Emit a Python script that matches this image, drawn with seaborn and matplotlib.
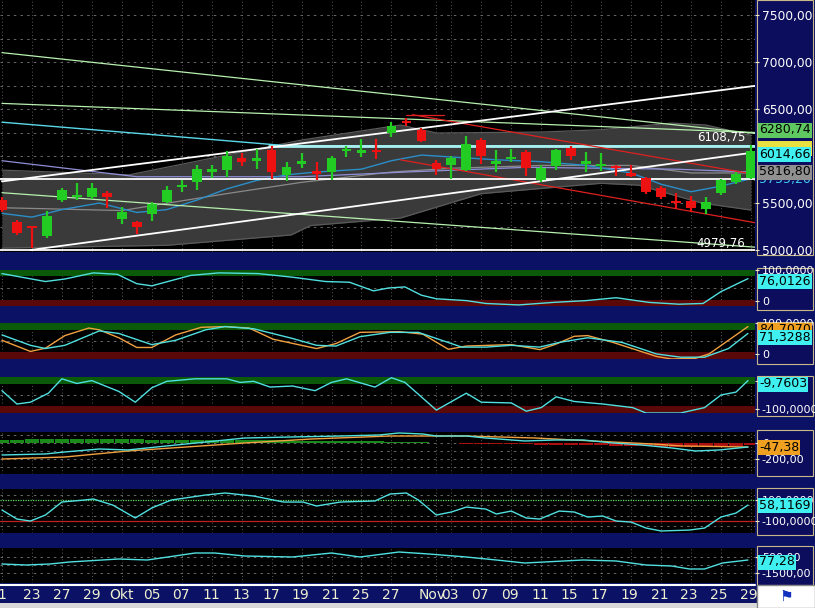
import numpy as np
import pandas as pd
import matplotlib
matplotlib.use("Agg")
import matplotlib.pyplot as plt
import seaborn as sns
from matplotlib.patches import Rectangle

sns.set_style("dark")
plt.rcParams['font.family'] = ['DejaVu Sans']

# ---------------- data ----------------
opens = [5530,5300,5250,5150,5530,5560,5560,5610,5330,5300,5380,5510,5670,5720,5830,5850,5980,5950,6060,5800,
         5920,5840,5830,6050,6030,6060,6250,6370,6280,5930,5900,5850,6170,5920,5970,6040,5740,5890,6090,5920,
         5890,5880,5800,5770,5660,5510,5520,5440,5610,5720,5770]
closes = [5430,5180,5230,5360,5640,5590,5660,5560,5400,5240,5490,5640,5690,5860,5860,6000,5940,5970,5830,5880,
          5940,5810,5980,6070,6060,6040,6320,6350,6160,5860,5980,6130,6000,5940,5980,5870,5870,6060,6000,5940,
          5910,5870,5790,5620,5560,5500,5450,5510,5750,5810,6050]
highs = [5560,5320,5260,5420,5660,5710,5710,5630,5460,5310,5510,5680,5740,5900,5900,6050,6030,6070,6110,5940,
         6030,5940,6000,6110,6180,6180,6360,6400,6300,5960,6000,6210,6190,6060,6080,6060,5900,6080,6110,6040,
         6030,5900,5900,5780,5680,5610,5570,5560,5760,5830,6120]
lows = [5400,5160,5020,5130,5510,5530,5540,5450,5280,5170,5310,5500,5620,5640,5770,5780,5890,5860,5760,5730,
        5870,5750,5740,5990,5990,5970,6200,6320,6150,5800,5760,5840,5920,5830,5940,5790,5720,5850,5960,5830,
        5840,5790,5780,5600,5540,5450,5400,5380,5590,5700,5760]

date_pos = [0,2,4,6,8,10,12,14,16,18,20,22,24,26,29,30,32,34,36,38,40,42,44,46,48,50]
date_labels = ["1","23","27","29","Okt","05","07","11","13","17","19","21","25","27","Nov","03","07","09",
               "11","15","17","19","21","23","25","29"]

bb_up_x = [0,8.5,20,26.6,29,36,40,44.7,47,50]
bb_up = [5850,5800,6170,6330,6245,6255,6280,6350,6330,6220]
bb_lo_x = [0,11,19.3,20.6,26.6,32,40,42.5,46.7,50]
bb_lo = [5020,5050,5160,5260,5340,5600,5710,5690,5500,5425]
mid_x = [0,8,15,20,26,30,36,42,46,50]
mid = [5450,5420,5600,5720,5830,5870,5900,5900,5820,5820]
ma_x = [0,2,4,6.5,9,11,13,15,17,19,21,24,26,28,30,33,36,39,42,44,46,48,50]
ma = [5390,5350,5430,5500,5400,5430,5530,5650,5740,5800,5830,5860,5950,6010,5990,5960,5940,5900,5820,5700,5620,5680,5760]
lav_x = [0,9,20,27,35,45,50]
lav = [5950,5780,5780,5830,5880,5860,5830]
cyan_x = [0,19,50.3]
cyan = [6360,6110,6110]

p1_x = [0,2.9,4.2,6.1,7.7,9,10,12.6,14.5,17.1,19.4,21.6,23.2,24.8,25.8,26.9,28,29,31,32.3,34.5,36.8,39,41,43.2,45.2,46.8,48,49,49.8]
p1_y = [90,68,75,92,88,62,56,85,92,90,80,68,66,42,50,53,30,20,15,7,3,10,15,23,10,5,7,40,60,76]
p2c_x = [0,1.9,2.9,4.2,6.5,7.8,10,11.6,13.6,14.9,16.8,19.4,21,22.3,23.9,25.9,27.8,29,30.7,32.3,34,35.9,37.2,39.1,41.4,43.7,45.3,46.9,48.5,49.8]
p2c_y = [67,38,29,38,78,71,40,52,81,90,84,57,38,36,62,74,74,57,33,33,38,33,46,59,46,14,5,5,29,71]
p2o_x = [0,1.9,2.9,4.2,5.8,6.5,7.8,9,10,11.6,13.3,14.9,16.5,18.1,21,22.3,23.9,26.5,28.1,29.8,31,34,35.9,36.9,38.2,39.1,40.8,43.7,44.7,46.3,47.2,48.5,49.8]
p2o_y = [52,21,30,65,86,81,59,32,32,67,88,90,86,55,29,43,74,76,69,27,36,40,26,40,63,65,46,7,0,2,14,52,90]
p3_x = [0,1,1.9,3.1,4,5,6,7.8,8.9,10,11,12.9,15,15.9,16.8,17.9,19.4,20.9,22,23,24.9,26,26.9,29,31,32,34,35,36,37,38.2,40.1,42.1,43,45.3,46.9,48,49,49.8]
p3_y = [-38,-75,-70,-45,-5,-18,-10,-40,-70,-30,-12,-5,-5,-15,-12,-28,-25,-38,-15,-5,-28,-2,-15,-92,-45,-70,-72,-95,-85,-55,-68,-75,-85,-100,-100,-85,-50,-42,-10]
p4c_x = [0,2.9,4.2,6.5,8.4,11,13.6,16.2,19.4,22.6,25.2,26.5,28.1,29,31,32.3,34.9,36.9,38.8,40.8,42.7,44.7,46.3,47.9,49.8]
p4c_y = [-150,-137,-112,-75,-87,-37,12,62,75,87,100,125,112,87,87,62,25,37,37,0,-25,-62,-100,-87,-50]
p4o_x = [0,4.2,8.4,12.3,16.2,20.7,25.9,31,35.6,40.8,43.4,45.3,49.8]
p4o_y = [-200,-175,-100,-50,0,50,87,87,62,12,-12,-37,-50]
hist = [40,42,44,45,46,46,48,48,46,44,42,40,40,38,38,38,36,34,34,32,30,30,28,26,24,20,16,12,8,4,0,-8,-12,-14,-16,-18,-20,-22,-24,-26,-28,-32,-36,-42,-46,-50,-50,-46,-40,-34,-30]
p5_x = [0,1,1.9,2.9,4,5.5,6.1,7.4,8.9,10,11.3,13.6,14.9,16.8,18.8,20.1,21,22.6,24.9,25.9,27,27.8,29,30,31,32.3,33,34,35,35.9,37.2,38.2,39.1,40.1,41,42,43,44,45.9,46.9,48,49,49.8]
p5_y = [5,-81,-100,-43,81,100,110,52,-71,24,100,148,167,138,81,81,43,81,91,157,167,100,-43,-14,33,14,-33,-5,-71,-81,-5,-14,-62,-52,-100,-110,-167,-195,-186,-167,-62,-24,52]
p6_x = [0,1.6,3.2,4.5,7.8,9.7,12.9,14.2,16.2,19.4,22,23.9,26.5,28.5,31,33,34.9,38.8,41,43,44.7,45.9,46.9,48.1,49.8]
p6_y = [-375,-500,-375,-125,250,125,1000,1000,625,500,1000,500,1125,875,500,125,-250,125,0,-500,-625,-1000,-1000,-250,125]

# ---------------- layout helpers ----------------
W, H = 815, 608
fig = plt.figure(figsize=(W/100, H/100), dpi=100)
NAVY = '#0b1266'
fig.patch.set_facecolor(NAVY)

def px_axes(x0, y0, x1, y1):
    ax = fig.add_axes([x0/W, 1-y1/H, (x1-x0)/W, (y1-y0)/H])
    ax.set_facecolor('black')
    for s in ax.spines.values():
        s.set_visible(False)
    ax.set_xlim(-0.13, 50.27)
    ax.set_xticks([])
    ax.grid(False)
    for p in date_pos:
        ax.axvline(p, color='#777777', lw=0.6, ls=(0, (1, 3)), zorder=0)
    return ax

def ftext(x, y, s, **kw):
    fig.text(x/W, 1-y/H, s, **kw)

def right_ticks(ax, vals, labels, size=8.0):
    ax.yaxis.tick_right()
    ax.set_yticks(vals)
    ax.set_yticklabels(labels)
    ax.tick_params(axis='y', colors='#f0e8c0', labelcolor='white', labelsize=size, length=3, pad=2)

def hline_grid(ax, vals):
    for v in vals:
        ax.axhline(v, color='#777777', lw=0.6, ls=(0, (3, 5)), zorder=0)

def line(ax, x, y, color, lw=1.0, **kw):
    sns.lineplot(x=x, y=y, ax=ax, color=color, lw=lw, sort=False, estimator=None, **kw)

frames = [(0, 255), (268, 310), (322, 364), (376, 416), (430, 476), (488, 535), (546, 585)]
for (a, b) in frames:
    fig.patches.append(Rectangle((757/W, 1-b/H), 56/W, (b-a)/H, transform=fig.transFigure,
                                 fill=True, facecolor='#0d0d5e', edgecolor='#c8b888', lw=0.8, zorder=-5))

# ---------------- main price panel ----------------
ax = px_axes(0, 0, 755, 252)
ax.set_ylim(4979, 7660)
hline_grid(ax, [5250, 5500, 5750, 6000, 6250, 6500, 6750, 7000, 7250, 7500])
xx = np.linspace(0, 50, 200)
ax.fill_between(xx, np.interp(xx, bb_lo_x, bb_lo), np.interp(xx, bb_up_x, bb_up), color='#3a3a3a', lw=0, zorder=1)
line(ax, bb_up_x, bb_up, '#5a5a5a', 0.9, zorder=2)
line(ax, bb_lo_x, bb_lo, '#5a5a5a', 0.9, zorder=2)
line(ax, mid_x, mid, '#8a8a8a', 0.9, zorder=2)
line(ax, lav_x, lav, '#8f8fd8', 0.9, zorder=2)
line(ax, ma_x, ma, '#2a8ec8', 1.0, zorder=2)
line(ax, cyan_x, cyan, '#5ad8e8', 1.0, zorder=2)
ax.plot([17.8, 50.3], [6110, 6110], color='#a8f0f0', lw=2.0, zorder=2)
line(ax, [0, 50.3], [7100, 6240], '#b8f0b0', 0.9, zorder=2)
line(ax, [0, 50.3], [6560, 6250], '#b8f0b0', 0.9, zorder=2)
line(ax, [0, 50.3], [5610, 5030], '#b8f0b0', 0.9, zorder=2)
line(ax, [27.4, 49.7], [6440, 5820], '#e02020', 0.9, zorder=2)
line(ax, [26.6, 50.3], [5960, 5290], '#e02020', 0.9, zorder=2)
ax.plot([27.0, 29.5], [6440, 6440], color='#e02020', lw=0.9, zorder=2)
line(ax, [1.9, 50.3], [5000, 6040], 'white', 1.3, zorder=3)
line(ax, [0, 54.4], [5730, 6830], 'white', 1.3, zorder=3)
ax.axhline(5755, color='white', lw=1.3, zorder=3)
ax.axhline(4995, color='white', lw=1.3, zorder=3)
idx = np.arange(len(opens))
o = np.array(opens); c = np.array(closes)
col = np.where(c >= o, '#22cc22', '#ee1111')
ax.vlines(idx, lows, highs, colors=col, lw=1.6, zorder=4)
bottom = np.minimum(o, c)
height = np.maximum(np.abs(c - o), 25)
ax.bar(idx, height, bottom=bottom, width=0.65, color=col, lw=0, edgecolor='none', zorder=5)
right_ticks(ax, [5000, 5500, 6500, 7000, 7500], ["5000,00", "5500,00", "6500,00", "7000,00", "7500,00"], size=8.8)
ftext(745, 137, "6108,75", color='white', fontsize=8.5, ha='right', va='center')
ftext(745, 243, "4979,76", color='white', fontsize=8.5, ha='right', va='center')
def tag(y, s, bg, fg='black', x=759):
    ftext(x, y, s, color=fg, fontsize=9, ha='left', va='center',
          bbox=dict(boxstyle='square,pad=0.08', fc=bg, ec='none'))
ftext(759, 180, "5755,20", color='#40c8f0', fontsize=9, ha='left', va='center')
tag(148, "             ", '#e8e040')
tag(130, "6280,74", '#60c860')
tag(155, "6014,66", '#40f0f0')
tag(172, "5816,80", '#909090')

# ---------------- sub panels ----------------
def bands(ax, glo, ghi, rlo, rhi):
    ax.axhspan(glo, ghi, color='#0a5a0a', lw=0, zorder=0.5)
    ax.axhspan(rlo, rhi, color='#5a0808', lw=0, zorder=0.5)

a1 = px_axes(0, 270, 755, 306)
a1.set_ylim(0, 100); bands(a1, 82, 100, 0, 18); hline_grid(a1, [50])
line(a1, p1_x, p1_y, '#50e0e0')
right_ticks(a1, [100, 15], ["100,0000", "0"])
tag(281, "76,0126", '#40f0f0')

a2 = px_axes(0, 323, 755, 359)
a2.set_ylim(0, 100); bands(a2, 80, 100, 0, 20); hline_grid(a2, [50])
line(a2, p2o_x, p2o_y, '#f0a040')
line(a2, p2c_x, p2c_y, '#50e0e0')
right_ticks(a2, [100, 15], ["100,0000", "0"])
tag(330, "84,7070", '#f0a020')
tag(337, "71,3288", '#40f0f0')

a3 = px_axes(0, 377, 755, 413)
a3.set_ylim(-100, 0); bands(a3, -20, 0, -100, -80); hline_grid(a3, [-50])
line(a3, p3_x, p3_y, '#50e0e0')
right_ticks(a3, [-12, -88], ["0", "-100,0000"])
tag(384, "-9,7603", '#40f0f0')

a4 = px_axes(0, 432, 755, 474)
a4.set_ylim(-387, 137); hline_grid(a4, [-100, -200, -300, 0, 100])
a4.bar(idx, hist, width=0.95, color=np.where(np.array(hist) >= 0, '#1a8a1a', '#aa1010'), lw=0, edgecolor='none', zorder=1)
line(a4, p4o_x, p4o_y, '#f0a040')
line(a4, p4c_x, p4c_y, '#50e0e0')
right_ticks(a4, [0, -200], ["0", "-200,00"])
tag(447, "-47,38", '#f0a020')

a5 = px_axes(0, 489, 755, 533)
a5.set_ylim(-214, 205); hline_grid(a5, [-150, -50, 50, 150])
a5.axhline(100, color='#60e060', lw=0.9, ls=(0, (1, 1)))
a5.axhline(-100, color='#c02020', lw=0.9)
line(a5, p5_x, p5_y, '#50e0e0')
right_ticks(a5, [100, -100], ["100,0000", "-100,0000"])
tag(505, "58,1169", '#40f0f0')

a6 = px_axes(0, 548, 755, 583)
a6.set_ylim(-2750, 1625); hline_grid(a6, [-1500, -500, 500])
line(a6, p6_x, p6_y, '#50e0e0')
right_ticks(a6, [500, -1500], ["500,00", "-1500,00"])
tag(562, "77,28", '#40f0f0')

# date axis
fig.add_artist(plt.Line2D([0, 755/W], [1-585/H, 1-585/H], color='white', lw=1.5, transform=fig.transFigure))
for p, lab in zip(date_pos, date_labels):
    xpx = 2 + p * 14.94 - (3 if lab == "Nov" else 0)
    ftext(xpx, 595, lab, color='#f0f0d0', fontsize=10, ha='center', va='center')
fig.patches.append(Rectangle((0, 0), 1, 5/H, transform=fig.transFigure, facecolor='#d8d8d8', edgecolor='none', zorder=-5))
fig.patches.append(Rectangle((757/W, 0), 58/W, 23/H, transform=fig.transFigure, facecolor='white', edgecolor='#888888', zorder=-5))
ftext(786, 596, "⚑", color='#1030c0', fontsize=11, ha='center', va='center')

fig.savefig("out.png", dpi=100, facecolor=NAVY)
